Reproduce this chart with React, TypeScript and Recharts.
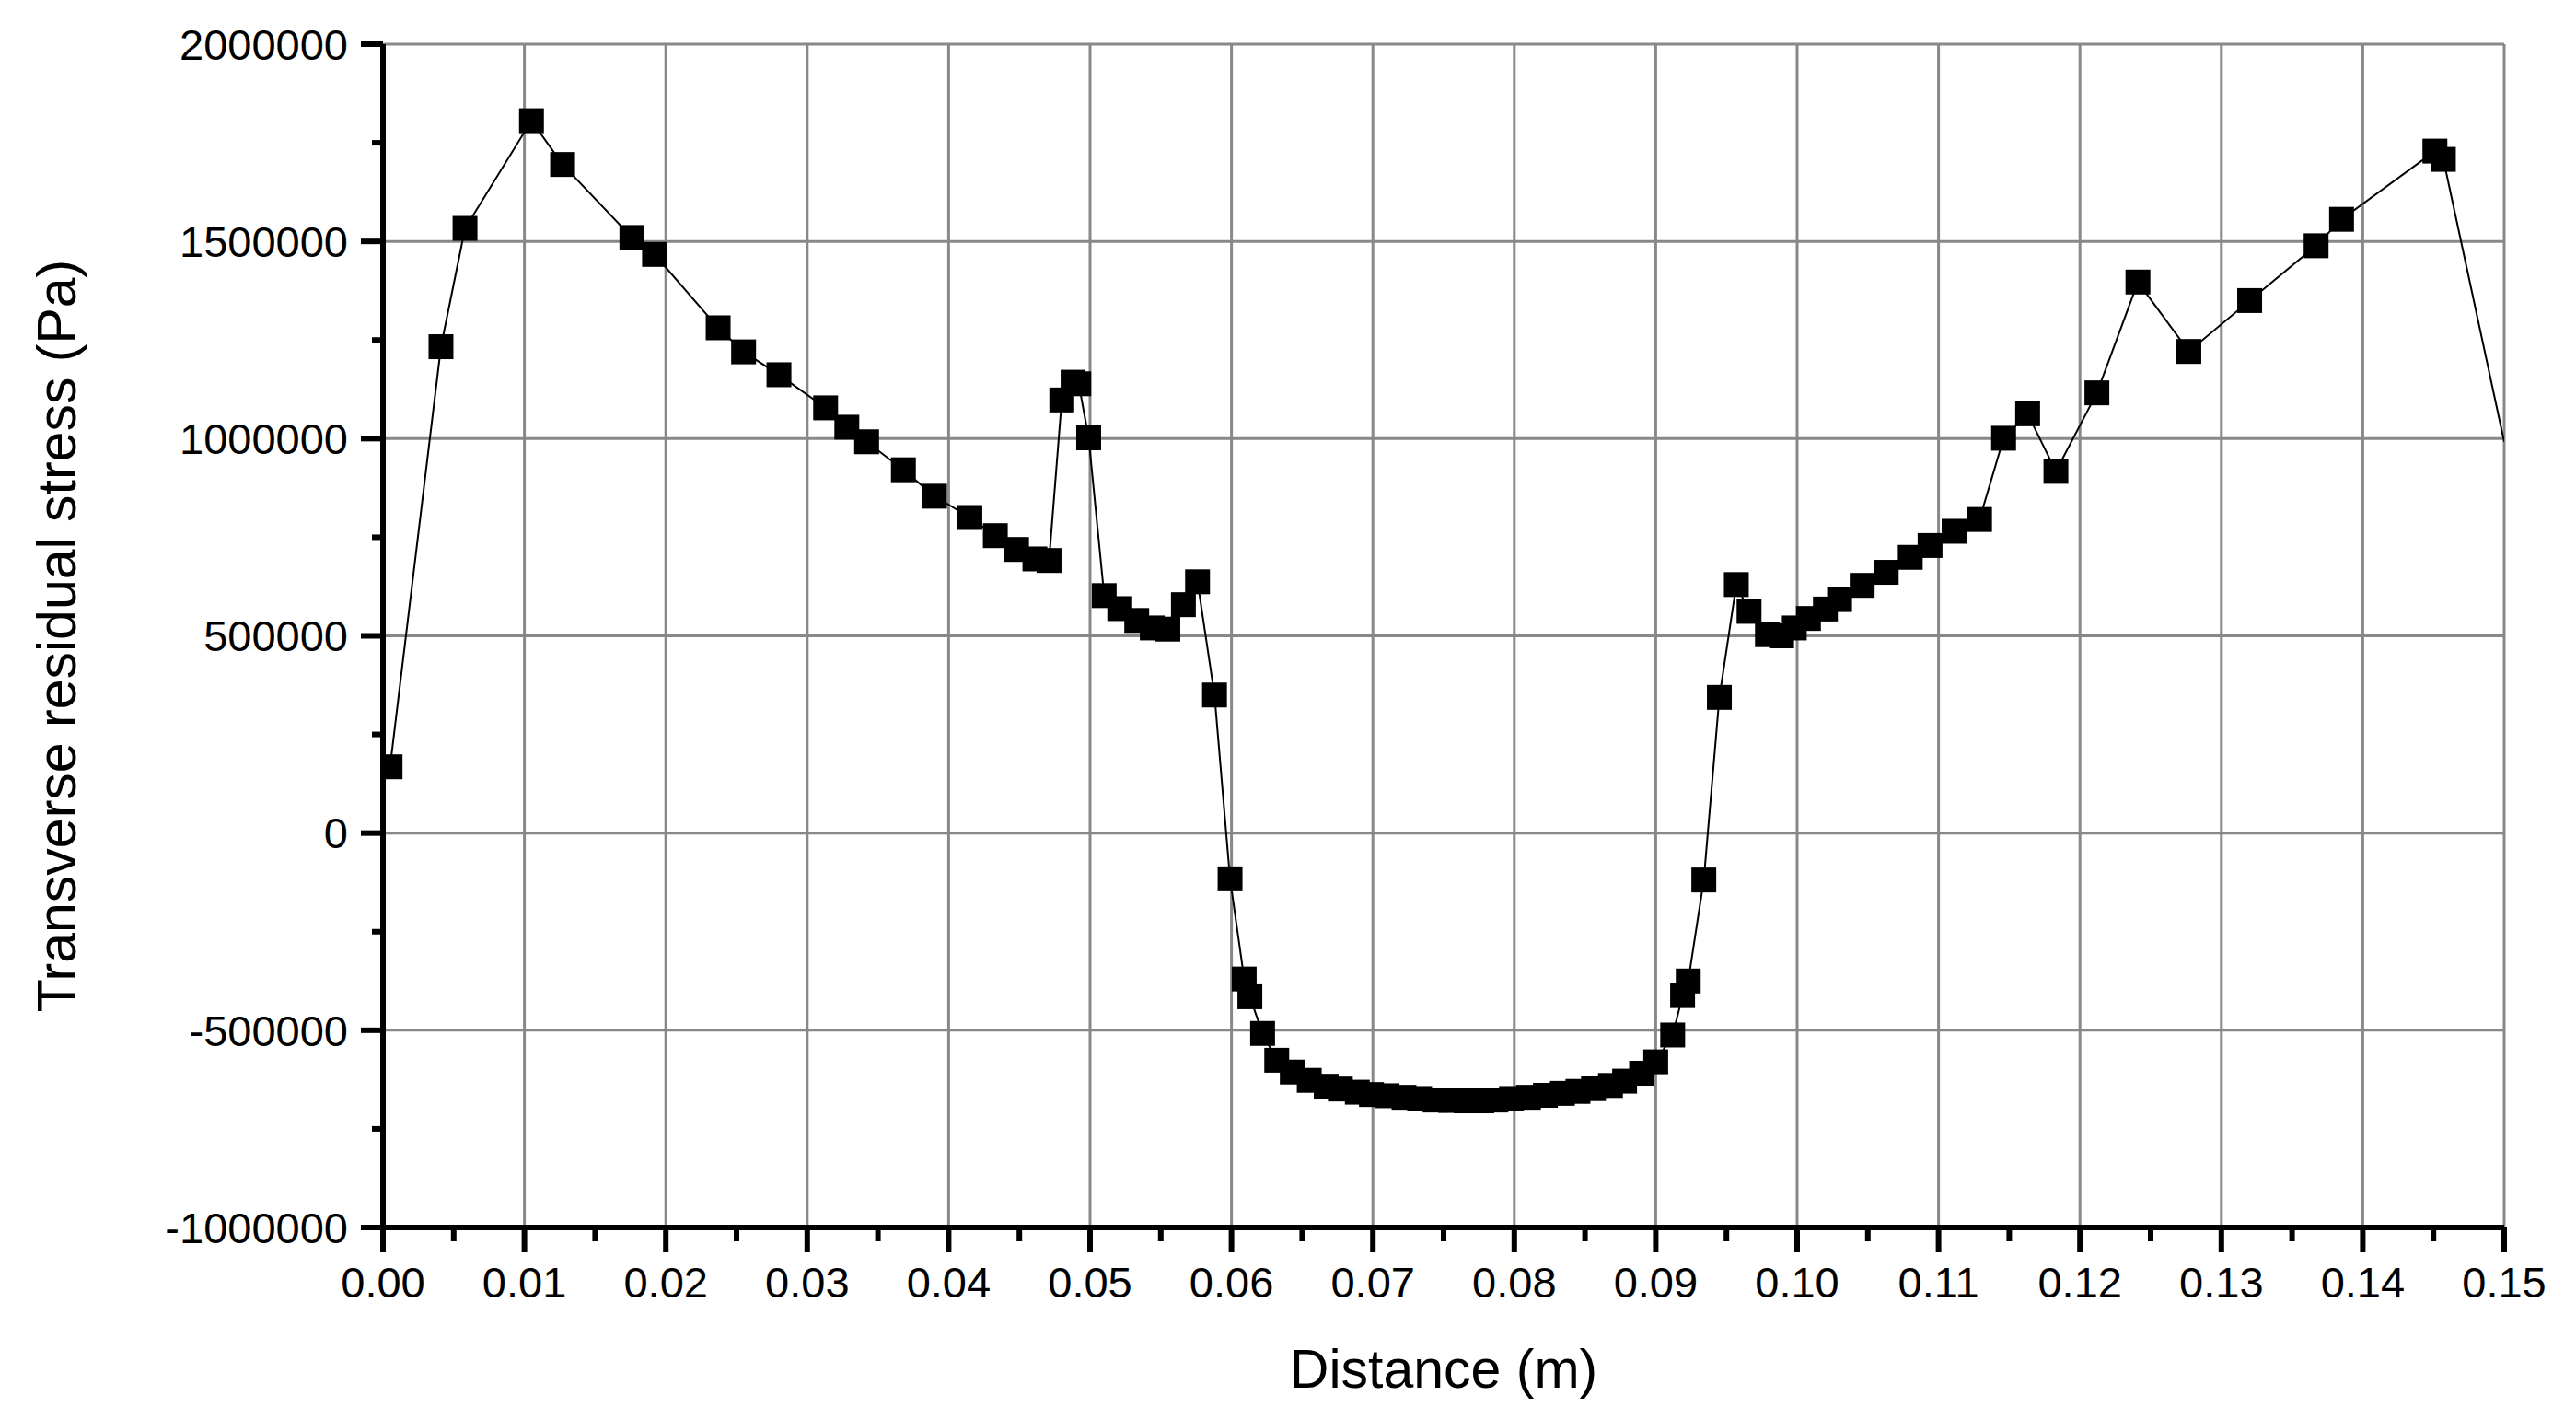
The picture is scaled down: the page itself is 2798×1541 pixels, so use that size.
import { CartesianGrid, Line, LineChart, XAxis, YAxis } from "recharts";

// distance along the weld line (m) and measured transverse residual stress (Pa)
const distance = [
  0.0005, 0.0041, 0.0058, 0.0105, 0.0127, 0.0176, 0.0192, 0.0237, 0.0255, 0.028,
  0.0313, 0.0328, 0.0342, 0.0368, 0.039, 0.0415, 0.0433, 0.0448, 0.0461, 0.0471,
  0.048, 0.0488, 0.0492, 0.0499, 0.051, 0.0521, 0.0533, 0.0544, 0.0555, 0.0566,
  0.0576, 0.0588, 0.0599, 0.0609, 0.0613, 0.0622, 0.0632, 0.0643, 0.0655, 0.0667,
  0.0677, 0.0689, 0.0699, 0.071, 0.0722, 0.0733, 0.0744, 0.0755, 0.0766, 0.0777,
  0.0787, 0.0798, 0.081, 0.0822, 0.0834, 0.0845, 0.0856, 0.0868, 0.0878, 0.089,
  0.09, 0.0912, 0.0919, 0.0923, 0.0934, 0.0945, 0.0957, 0.0966, 0.0979, 0.0989,
  0.0998, 0.1008, 0.102, 0.103, 0.1046, 0.1063, 0.108, 0.1094, 0.1111, 0.1129,
  0.1146, 0.1163, 0.1183, 0.1212, 0.1241, 0.1277, 0.132, 0.1367, 0.1385, 0.1451,
  0.1457, 0.15,
];

const stress = [
  168000, 1233000, 1533000, 1806000, 1695000, 1510000, 1467000, 1281000, 1220000, 1162000,
  1078000, 1029000, 992000, 921000, 854000, 800000, 754000, 719000, 695000, 691000,
  1098000, 1143000, 1139000, 1002000, 602000, 569000, 539000, 520000, 517000, 579000,
  637000, 350000, -116000, -370000, -415000, -508000, -576000, -606000, -627000, -642000,
  -649000, -657000, -663000, -666000, -670000, -673000, -677000, -678000, -679000, -679000,
  -677000, -673000, -670000, -665000, -660000, -655000, -648000, -640000, -629000, -609000,
  -580000, -512000, -412000, -375000, -119000, 344000, 630000, 562000, 503000, 500000,
  520000, 544000, 568000, 592000, 628000, 661000, 699000, 729000, 765000, 795000,
  1001000, 1063000, 917000, 1116000, 1397000, 1221000, 1350000, 1489000, 1556000, 1729000,
  1708000, 992000,
];

const xTicks = [0, 0.01, 0.02, 0.03, 0.04, 0.05, 0.06, 0.07, 0.08, 0.09, 0.1, 0.11, 0.12, 0.13, 0.14, 0.15];
const yTicks = [-1000000, -500000, 0, 500000, 1000000, 1500000, 2000000];

const data = distance.map((d, i) => ({ distance: d, stress: stress[i] }));

const FONT = "'Liberation Sans', Arial, sans-serif";
const FONT_SIZE = 47;
const axisLine = { stroke: "#000", strokeWidth: 6 };
const tickLine = { stroke: "#000", strokeWidth: 6 };

const X_TICK = 27;
const X_GAP = 16;
const Y_TICK = 24;
const Y_GAP = 14;

// label plus the minor tick halfway to the next major one
const XTick = (props: any) => {
  const { x, y, payload, index, width } = props;
  const step = width / (xTicks.length - 1);
  const axisY = y - X_TICK - X_GAP;
  return (
    <g>
      {index < xTicks.length - 1 && (
        <line x1={x + step / 2} x2={x + step / 2} y1={axisY} y2={axisY + 15} stroke="#000" strokeWidth={6} />
      )}
      <text x={x} y={y} dy="0.71em" textAnchor="middle" fontSize={FONT_SIZE} fontFamily={FONT} fill="#000">
        {Number(payload.value).toFixed(2)}
      </text>
    </g>
  );
};

const YTick = (props: any) => {
  const { x, y, payload, index, height } = props;
  const step = height / (yTicks.length - 1);
  const axisX = x + Y_TICK + Y_GAP;
  return (
    <g>
      {index > 0 && (
        <line x1={axisX - 12} x2={axisX} y1={y + step / 2} y2={y + step / 2} stroke="#000" strokeWidth={6} />
      )}
      <text x={x} y={y} dy="0.355em" textAnchor="end" fontSize={FONT_SIZE} fontFamily={FONT} fill="#000">
        {payload.value}
      </text>
    </g>
  );
};

// square markers, the last sample sits on the frame and has none
const SquareDot = (props: any) => {
  const { cx, cy, index } = props;
  if (index === data.length - 1 || cx == null || cy == null) return <g key={`d${index}`} />;
  return <rect key={`d${index}`} x={cx - 13.5} y={cy - 13.5} width={27} height={27} fill="#000" />;
};

export default function App() {
  return (
    <div style={{ position: "absolute", left: 0, top: 0, background: "#fff" }}>
      <LineChart width={2798} height={1541} data={data} margin={{ top: 48, right: 78, left: 0, bottom: 0 }}>
        <CartesianGrid xAxisId="x" yAxisId="y" stroke="#888" strokeWidth={3} />
        <XAxis
          xAxisId="x"
          dataKey="distance"
          type="number"
          domain={[0, 0.15]}
          ticks={xTicks}
          height={208}
          tick={<XTick />}
          axisLine={axisLine}
          tickLine={tickLine}
          tickSize={X_TICK}
          tickMargin={X_GAP}
          interval={0}
          allowDataOverflow
          label={{
            content: (p: any) => {
              const vb = p.viewBox;
              return (
                <text x={vb.x + vb.width / 2} y={1507} textAnchor="middle" fontSize={59} fontFamily={FONT} fill="#000">
                  Distance (m)
                </text>
              );
            },
          }}
        />
        <XAxis xAxisId="top" orientation="top" type="number" domain={[0, 0.15]} height={0} tick={false} tickLine={false} axisLine={axisLine} />
        <YAxis
          yAxisId="y"
          type="number"
          domain={[-1000000, 2000000]}
          ticks={yTicks}
          width={416}
          tick={<YTick />}
          axisLine={axisLine}
          tickLine={tickLine}
          tickSize={Y_TICK}
          tickMargin={Y_GAP}
          interval={0}
          allowDataOverflow
          label={{
            content: (p: any) => {
              const vb = p.viewBox;
              const cy = vb.y + vb.height / 2;
              return (
                <text
                  x={62}
                  y={cy}
                  transform={`rotate(-90, 62, ${cy})`}
                  textAnchor="middle"
                  dominantBaseline="central"
                  fontSize={59}
                  fontFamily={FONT}
                  fill="#000"
                >
                  Transverse residual stress (Pa)
                </text>
              );
            },
          }}
        />
        <YAxis yAxisId="right" orientation="right" type="number" domain={[-1000000, 2000000]} width={0} tick={false} tickLine={false} axisLine={axisLine} />
        <Line
          xAxisId="x"
          yAxisId="y"
          type="linear"
          dataKey="stress"
          stroke="#000"
          strokeWidth={2}
          dot={SquareDot}
          activeDot={false}
          isAnimationActive={false}
        />
      </LineChart>
    </div>
  );
}
